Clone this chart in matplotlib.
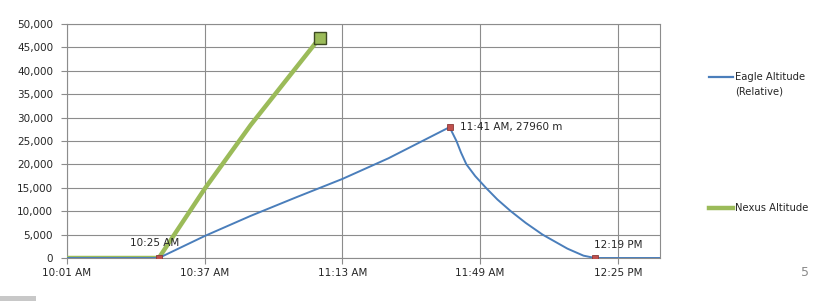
import matplotlib
matplotlib.use("Agg")
import matplotlib.pyplot as plt
from matplotlib.lines import Line2D
from matplotlib.patches import Rectangle

# ---- data ----
eagle_times = ["10:01", "10:25", "10:37", "10:49", "11:01", "11:13", "11:25", "11:41",
               "11:42:48", "11:44:00", "11:45:24", "11:47:42", "11:50:30",
               "11:53:30", "11:57:00", "12:00:54", "12:05:18",
               "12:11:48", "12:16:00", "12:19", "12:36"]
eagle_alt = [0, 0, 4700, 9000, 13000, 16900, 21300, 27960,
             25000, 22500, 20000, 17500, 15000,
             12500, 10000, 7500, 5000,
             2000, 500, 0, 0]
nexus_times = ["10:01", "10:25", "10:37", "10:49", "11:07"]
nexus_alt = [0, 0, 14800, 28400, 47000]
eagle_marker_times = ["10:25", "11:41", "12:19"]
eagle_marker_alt = [0, 27960, 0]
marker_labels = ["10:25 AM", "11:41 AM, 27960 m", "12:19 PM"]
xtick_times = ["10:01", "10:37", "11:13", "11:49", "12:25"]
xtick_labels = ["10:01 AM", "10:37 AM", "11:13 AM", "11:49 AM", "12:25 PM"]
yticks = [0, 5000, 10000, 15000, 20000, 25000, 30000, 35000, 40000, 45000, 50000]
x_end = "12:36"


def to_min(t):
    parts = [int(p) for p in t.split(":")]
    m = parts[0] * 60 + parts[1]
    if len(parts) > 2:
        m += parts[2] / 60.0
    return m


BLUE = "#4a7ebb"
GREEN = "#9bbb59"
RED = "#c0504d"
GRID = "#8c8c8c"
TXT = "#262626"

plt.rcParams["font.family"] = ["DejaVu Sans"]

fig = plt.figure(figsize=(8.4, 3.01), dpi=100)
ax = fig.add_axes([67 / 840, 43 / 301, 593 / 840, 234 / 301])

ex = [to_min(t) for t in eagle_times]
nx = [to_min(t) for t in nexus_times]

ax.plot(nx, nexus_alt, color=GREEN, lw=3.2, solid_capstyle="butt", zorder=3)
ax.plot([nx[-1]], [nexus_alt[-1]], marker="s", ms=9, mfc=GREEN, mec="#3d4a22",
        mew=1.0, zorder=5, ls="none")
ax.plot(ex, eagle_alt, color=BLUE, lw=1.4, zorder=4, solid_joinstyle="round")
mx = [to_min(t) for t in eagle_marker_times]
ax.plot(mx, eagle_marker_alt, ls="none", marker="s", ms=5, mfc=RED, mec="#8b3a38",
        mew=0.6, zorder=6)

offsets = [(-4, 15, "center"), (10, 0, "left"), (-1, 13, "left")]
for x, y, lab, (dx, dy, ha) in zip(mx, eagle_marker_alt, marker_labels, offsets):
    ax.annotate(lab, (x, y), xytext=(dx, dy), textcoords="offset pixels",
                ha=ha, va="center", fontsize=7.5, color=TXT, zorder=7)

ax.set_xlim(to_min(xtick_times[0]), to_min(x_end))
ax.set_ylim(0, 50000)
ax.set_xticks([to_min(t) for t in xtick_times])
ax.set_xticklabels(xtick_labels)
ax.set_yticks(yticks)
ax.set_yticklabels([f"{v:,}" for v in yticks])
ax.tick_params(axis="both", labelsize=7.5, colors=TXT, length=4, width=0.8,
               color=GRID)
ax.tick_params(axis="y", pad=6)
ax.tick_params(axis="x", pad=3)
ax.grid(True, color=GRID, lw=0.8, zorder=0)
ax.set_axisbelow(True)
for s in ax.spines.values():
    s.set_color(GRID)
    s.set_linewidth(0.8)

# legend keys
fig.add_artist(Line2D([709 / 840, 733 / 840], [1 - 77 / 301, 1 - 77 / 301],
                      color=BLUE, lw=1.6))
fig.text(735 / 840, 1 - 77 / 301, "Eagle Altitude", fontsize=7.2, color=TXT,
         va="center", ha="left")
fig.text(735 / 840, 1 - 92 / 301, "(Relative)", fontsize=7.2, color=TXT,
         va="center", ha="left")
fig.add_artist(Line2D([709 / 840, 733 / 840], [1 - 208 / 301, 1 - 208 / 301],
                      color=GREEN, lw=3.2))
fig.text(735 / 840, 1 - 208 / 301, "Nexus Altitude", fontsize=7.2, color=TXT,
         va="center", ha="left")

fig.text(805 / 840, 1 - 273 / 301, "5", fontsize=9, color="#8a8a8a",
         ha="center", va="center")
fig.add_artist(Rectangle((0, 0), 36 / 840, 5 / 301, transform=fig.transFigure,
                         color="#c8c8c8", lw=0))

fig.savefig("out.png", dpi=100)
